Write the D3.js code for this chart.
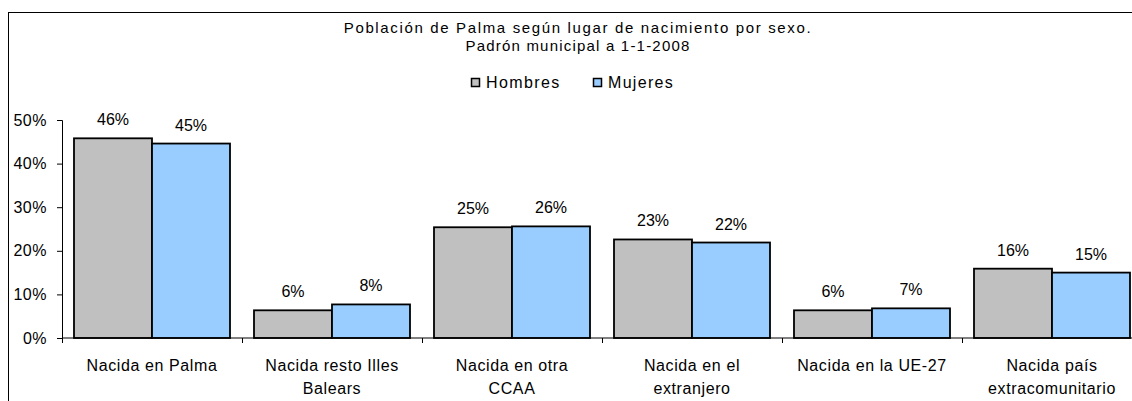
<!DOCTYPE html>
<html>
<head>
<meta charset="utf-8">
<script src="https://cdn.jsdelivr.net/npm/d3@7"></script>
<style>
  html, body { margin: 0; padding: 0; background: #fff; }
  svg { display: block; font-family: "Liberation Sans", Arial, sans-serif; }
</style>
</head>
<body>
<svg id="chart" width="1132" height="401"></svg>
<script>
const categories = [
  ["Nacida en Palma"],
  ["Nacida resto Illes", "Balears"],
  ["Nacida en otra", "CCAA"],
  ["Nacida en el", "extranjero"],
  ["Nacida en la UE-27"],
  ["Nacida país", "extracomunitario"]
];
const seriesNames = ["Hombres", "Mujeres"];
const seriesColors = ["#C0C0C0", "#99CCFF"];
const hombres = [45.8, 6.35, 25.4, 22.6, 6.35, 15.9];
const mujeres = [44.6, 7.7, 25.6, 21.9, 6.8, 15.0];
const yTicks = [0, 10, 20, 30, 40, 50];
const titleLines = ["Población de Palma según lugar de nacimiento por sexo.", "Padrón municipal a 1-1-2008"];

const svg = d3.select("#chart");
const fontSize = 16;

// frame
svg.append("rect").attr("x", 8.5).attr("y", 12.5).attr("width", 1140).attr("height", 400)
  .attr("fill", "none").attr("stroke", "#000").attr("stroke-width", 1);

// title
const cx = 578;
svg.append("text").attr("x", cx).attr("y", 33).attr("text-anchor", "middle")
  .attr("font-size", 15).attr("letter-spacing", 1.65).text(titleLines[0]);
svg.append("text").attr("x", cx).attr("y", 51).attr("text-anchor", "middle")
  .attr("font-size", 15).attr("letter-spacing", 1.2).text(titleLines[1]);

// legend
const legendX = [471, 593];
const legendSpacing = [1.4, 1.3];
seriesNames.forEach((n, i) => {
  svg.append("rect").attr("x", legendX[i] + 0.5).attr("y", 78.5).attr("width", 8).attr("height", 8)
    .attr("fill", seriesColors[i]).attr("stroke", "#000").attr("stroke-width", 1.5);
  svg.append("text").attr("x", legendX[i] + 15).attr("y", 88).attr("font-size", fontSize)
    .attr("letter-spacing", legendSpacing[i]).text(n);
});

// scales
const catIdx = categories.map((d, i) => i);
const x = d3.scaleBand().domain(catIdx).range([62, 1142]).padding(0);
const xs = d3.scaleBand().domain(seriesNames).range([0, x.bandwidth()]).paddingInner(0).paddingOuter(12 / 78);
const y = d3.scaleLinear().domain([0, 50]).range([338, 120]);

// y axis
const yAxis = svg.append("g").attr("transform", "translate(62,0)")
  .call(d3.axisLeft(y).tickValues(yTicks).tickFormat(d => d + "%").tickSize(5).tickPadding(10));
yAxis.select(".domain").attr("stroke", "#000");
yAxis.selectAll(".tick line").attr("stroke", "#000");
yAxis.selectAll(".tick text").attr("font-size", fontSize).attr("fill", "#000")
  .attr("letter-spacing", 0.5)
  .attr("font-family", "Liberation Sans, Arial, sans-serif");

// bars
const data = [hombres, mujeres];
const g = svg.append("g");
catIdx.forEach(i => {
  seriesNames.forEach((s, j) => {
    const v = data[j][i];
    const bx = x(i) + xs(s);
    g.append("rect").attr("x", bx).attr("y", y(v)).attr("width", xs.bandwidth())
      .attr("height", y(0) - y(v)).attr("fill", seriesColors[j])
      .attr("stroke", "#000").attr("stroke-width", 1.8);
    g.append("text").attr("x", bx + xs.bandwidth() / 2).attr("y", y(v) - 13)
      .attr("text-anchor", "middle").attr("font-size", fontSize)
      .text(Math.round(v) + "%");
  });
});

// x axis
const xAxis = svg.append("g").attr("transform", "translate(0,338)");
xAxis.append("line").attr("x1", 62).attr("x2", 1142).attr("y1", 0).attr("y2", 0)
  .attr("stroke", "#000").attr("stroke-width", 1);
catIdx.forEach(i => {
  xAxis.append("line").attr("x1", x(i) + 0.5).attr("x2", x(i) + 0.5).attr("y1", 0).attr("y2", 5)
    .attr("stroke", "#000");
  const t = xAxis.append("text").attr("text-anchor", "middle").attr("font-size", fontSize)
    .attr("letter-spacing", 0.6);
  categories[i].forEach((line, k) => {
    t.append("tspan").attr("x", x(i) + x.bandwidth() / 2).attr("y", 33 + k * 23).text(line);
  });
});
</script>
</body>
</html>
